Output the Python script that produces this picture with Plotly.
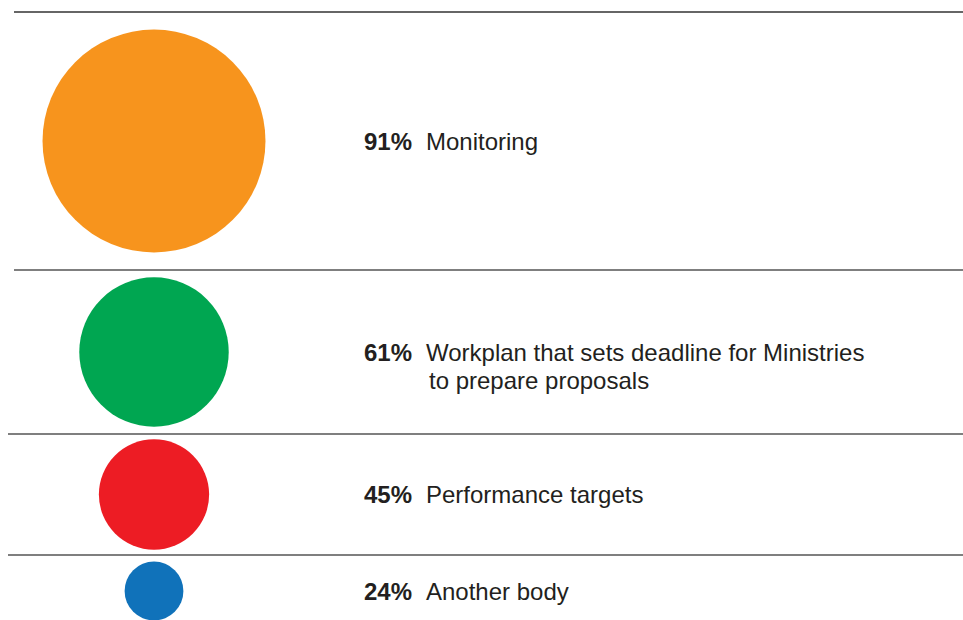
import plotly.graph_objs as go

# =========================
# DATOS
# =========================
percentages = [91, 61, 45, 24]
labels = [
    "Monitoring",
    "Workplan that sets deadline for Ministries<br>to prepare proposals",
    "Performance targets",
    "Another body",
]
colors = ["#F7941D", "#00A651", "#ED1C24", "#1072BA"]

# =========================
# LAYOUT (pixel space)
# =========================
W, H = 963, 620
ROW_LINES = [12, 270, 434, 555, 627]   # separadores horizontales (y en px)
LINE_X0 = [14, 14, 8, 8]
CIRCLE_X = 154
PCT_X = 362
LABEL_X = 424
PX_PER_PCT = 2.45                      # diametro del circulo por punto porcentual
FONT = "Liberation Sans, Arial, Helvetica, sans-serif"
TEXT_COLOR = "#231f20"

row_y = [(ROW_LINES[i] + ROW_LINES[i + 1]) / 2 for i in range(len(percentages))]

fig = go.Figure()
fig.add_trace(go.Scatter(
    x=[CIRCLE_X] * len(percentages),
    y=row_y,
    mode="markers",
    marker=dict(
        size=[p * PX_PER_PCT for p in percentages],
        sizemode="diameter",
        color=colors,
        opacity=1,
        line=dict(width=0),
    ),
    hoverinfo="skip",
    showlegend=False,
))

shapes = []
for i in range(len(percentages)):
    shapes.append(dict(
        type="line", xref="x", yref="y",
        x0=LINE_X0[i], x1=W, y0=ROW_LINES[i], y1=ROW_LINES[i],
        line=dict(color="#333333" if i == 0 else "#555555", width=1.6),
        layer="below",
    ))

annotations = []
for p, lab, y in zip(percentages, labels, row_y):
    annotations.append(dict(
        x=PCT_X, y=y, xref="x", yref="y", xanchor="left", yanchor="middle",
        text=f"<b>{p}%</b>", showarrow=False,
        font=dict(family=FONT, size=24, color=TEXT_COLOR),
    ))
    for j, line in enumerate(lab.split("<br>")):
        annotations.append(dict(
            x=LABEL_X + (3 if j else 0), y=y + 28 * j, xref="x", yref="y",
            xanchor="left", yanchor="middle",
            text=line, showarrow=False,
            font=dict(family=FONT, size=24, color=TEXT_COLOR),
        ))

fig.update_layout(
    width=W, height=H,
    margin=dict(l=0, r=0, t=0, b=0),
    paper_bgcolor="white",
    plot_bgcolor="white",
    xaxis=dict(range=[0, W], visible=False, fixedrange=True),
    yaxis=dict(range=[H, 0], visible=False, fixedrange=True),
    shapes=shapes,
    annotations=annotations,
)

# quitar el margen por defecto del <body> para que la figura quede en (0,0)
fig.write_html(
    "out.html",
    config={"displayModeBar": False},
    post_script="document.body.style.margin='0';",
)
